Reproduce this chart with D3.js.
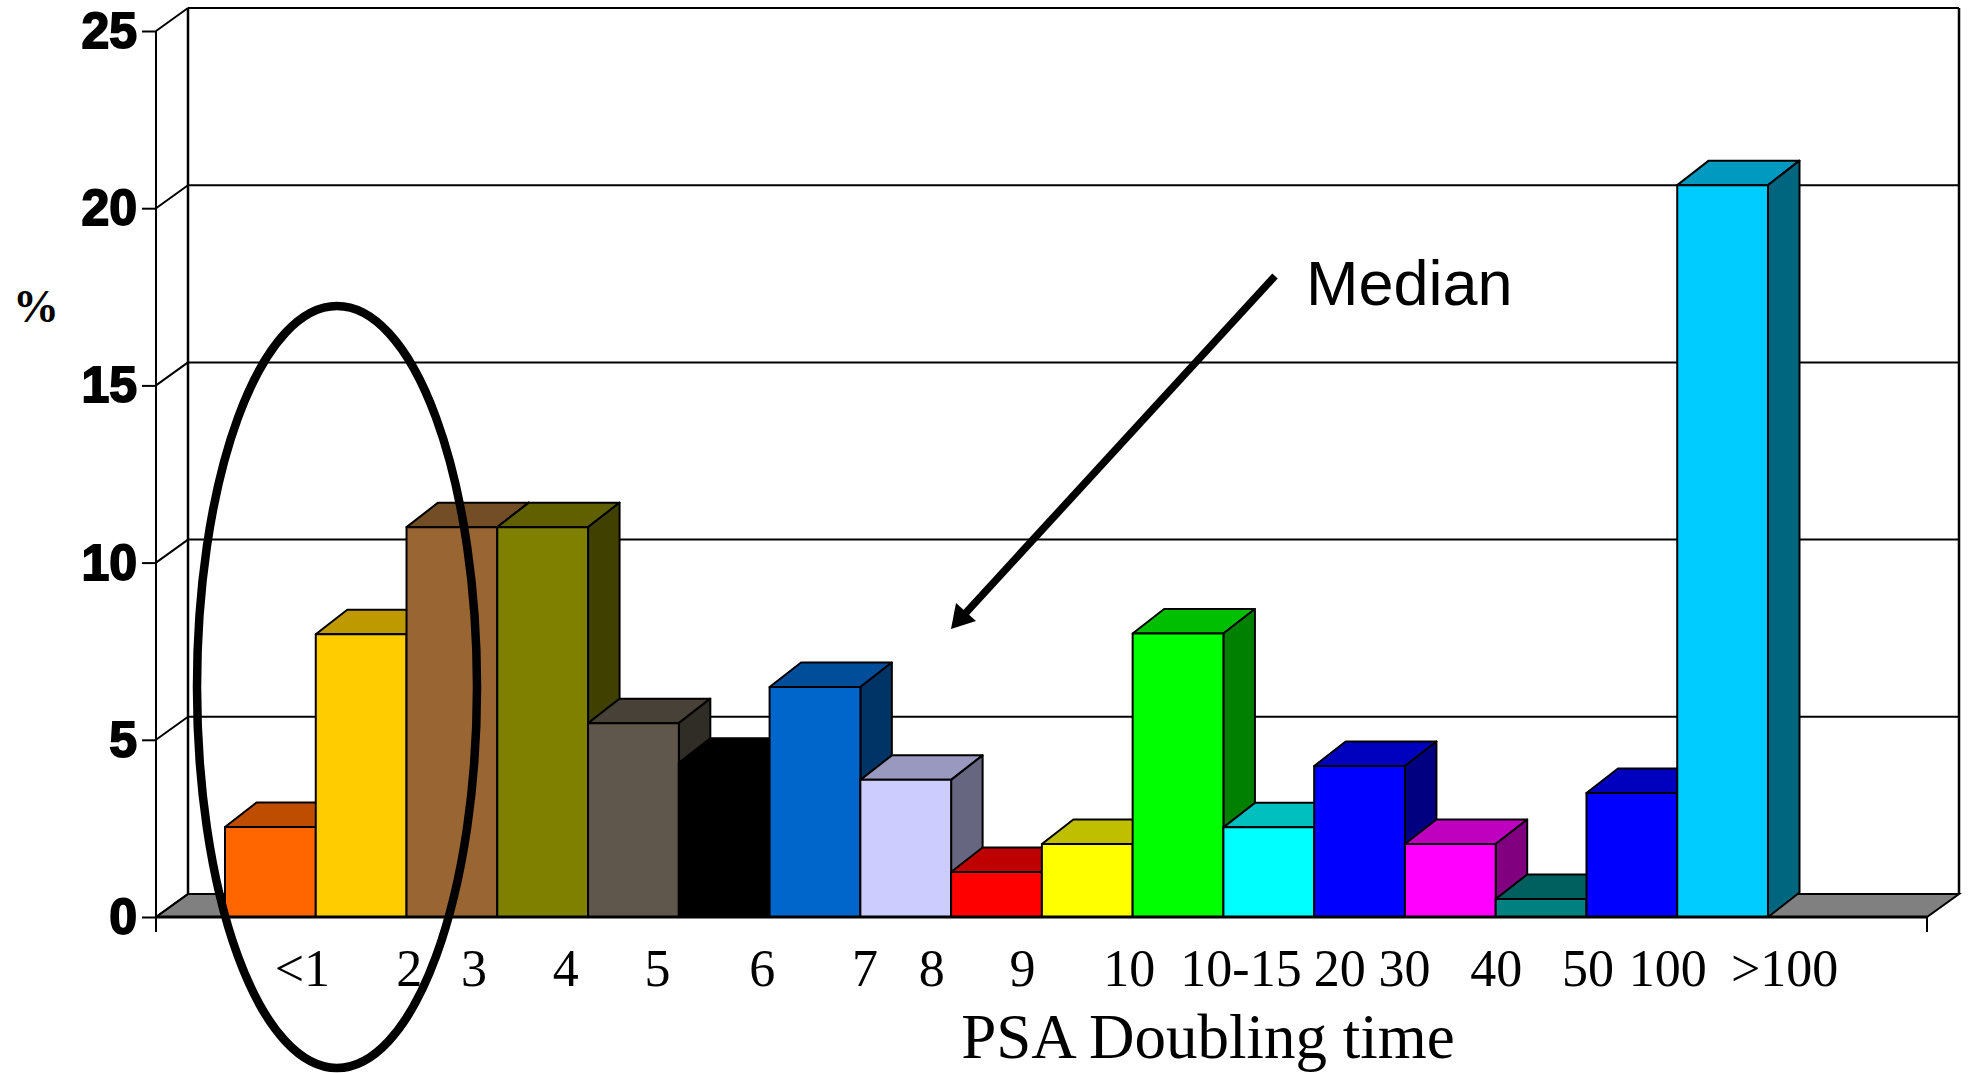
<!DOCTYPE html>
<html>
<head>
<meta charset="utf-8">
<script src="https://cdn.jsdelivr.net/npm/d3@7"></script>
<style>
  html, body { margin: 0; padding: 0; background: #fff; overflow: hidden; }
</style>
</head>
<body>
<div id="chart"></div>
<script>
const categories = ["<1", "2", "3", "4", "5", "6", "7", "8", "9", "10", "10-15", "20", "30", "40", "50", "100", ">100"];
const percents = [2.54, 7.98, 11.0, 11.0, 5.47, 4.35, 6.49, 3.87, 1.27, 2.06, 8.0, 2.53, 4.26, 2.06, 0.51, 3.5, 20.65];
const barColors = ["#ff6600", "#ffcc00", "#996633", "#808000", "#5f574b", "#000000", "#0066cc", "#ccccff",
  "#ff0000", "#ffff00", "#00ff00", "#00ffff", "#0000ff", "#ff00ff", "#008080", "#0000ff", "#00ccff"];
const yTicks = [0, 5, 10, 15, 20, 25];

// labels don't sit under their bars in the original, so each one gets pushed right
const labelShift = [32, 48, 22, 23, 24, 38, 50, 26, 26, 42, 63, 71, 45, 46, 47, 36, 62];

const width = 1969, height = 1073;
const depthX = 32, depthY = 23;
const barDepthX = 31.5, barDepthY = 24.5;
const axisLeft = 156, axisRight = 1927;

const svg = d3.select("#chart").append("svg")
  .attr("width", width)
  .attr("height", height)
  .style("display", "block");

const x = d3.scaleBand().domain(categories).range([225, 1768]);
const y = d3.scaleLinear().domain([0, 25]).range([917, 31]);

const shade = (c, k) => {
  const o = d3.rgb(c);
  return d3.rgb(o.r * k, o.g * k, o.b * k).formatHex();
};
const poly = pts => pts.map(p => p.join(",")).join(" ");

// floor
svg.append("polygon")
  .attr("points", poly([[axisLeft, y(0)], [axisLeft + depthX, y(0) - depthY], [axisRight + depthX, y(0) - depthY], [axisRight, y(0)]]))
  .attr("fill", "#808080")
  .attr("stroke", "#000")
  .attr("stroke-width", 2);

// back wall gridlines and the little diagonals on the side wall
svg.append("g").selectAll("line")
  .data(yTicks.slice(1))
  .join("line")
  .attr("x1", axisLeft + depthX)
  .attr("x2", axisRight + depthX)
  .attr("y1", d => y(d) - depthY)
  .attr("y2", d => y(d) - depthY)
  .attr("stroke", "#000")
  .attr("stroke-width", 2);

svg.append("g").selectAll("line")
  .data(yTicks)
  .join("line")
  .attr("x1", axisLeft)
  .attr("x2", axisLeft + depthX)
  .attr("y1", d => y(d))
  .attr("y2", d => y(d) - depthY)
  .attr("stroke", "#000")
  .attr("stroke-width", 2);

// wall verticals
[axisLeft + depthX, axisRight + depthX].forEach(px => {
  svg.append("line")
    .attr("x1", px).attr("x2", px)
    .attr("y1", y(25) - depthY).attr("y2", y(0) - depthY)
    .attr("stroke", "#000")
    .attr("stroke-width", 2.5);
});

// y axis
const yAxis = svg.append("g")
  .attr("transform", `translate(${axisLeft},0)`)
  .call(d3.axisLeft(y).tickValues(yTicks).tickSize(14).tickPadding(5).tickSizeOuter(0));
yAxis.select(".domain").remove();
yAxis.selectAll("line").attr("stroke", "#000").attr("stroke-width", 2);
yAxis.selectAll("text")
  .attr("dy", "16.5px")
  .style("font-family", "'Liberation Sans', Arial, sans-serif")
  .style("font-weight", "bold")
  .style("font-size", "50px")
  .attr("fill", "#000")
  .attr("stroke", "#000")
  .attr("stroke-width", 1.8);

// left axis line, runs a bit below zero
svg.append("line")
  .attr("x1", axisLeft).attr("x2", axisLeft)
  .attr("y1", y(25)).attr("y2", y(0) + 15)
  .attr("stroke", "#000").attr("stroke-width", 2);

// bars, left to right so the next front covers the previous side
const bars = svg.append("g").selectAll("g")
  .data(categories)
  .join("g")
  .attr("stroke", "#000")
  .attr("stroke-width", 2)
  .attr("stroke-linejoin", "round");

bars.each(function (d, i) {
  const g = d3.select(this);
  const x0 = x(d), x1 = x0 + x.bandwidth();
  const top = y(percents[i]), base = y(0);
  g.append("polygon")
    .attr("points", poly([[x0, top], [x0 + barDepthX, top - barDepthY], [x1 + barDepthX, top - barDepthY], [x1, top]]))
    .attr("fill", shade(barColors[i], 0.75));
  g.append("polygon")
    .attr("points", poly([[x1, top], [x1 + barDepthX, top - barDepthY], [x1 + barDepthX, base - barDepthY], [x1, base]]))
    .attr("fill", shade(barColors[i], 0.5));
  g.append("rect")
    .attr("x", x0)
    .attr("y", top)
    .attr("width", x1 - x0)
    .attr("height", base - top)
    .attr("fill", barColors[i]);
});

// front edge of the floor + end tick
svg.append("line")
  .attr("x1", axisLeft).attr("x2", axisRight)
  .attr("y1", y(0)).attr("y2", y(0))
  .attr("stroke", "#000").attr("stroke-width", 3);
svg.append("line")
  .attr("x1", axisRight).attr("x2", axisRight)
  .attr("y1", y(0)).attr("y2", y(0) + 15)
  .attr("stroke", "#000").attr("stroke-width", 2);

// category labels
const xAxis = svg.append("g")
  .attr("transform", `translate(0,${y(0)})`)
  .call(d3.axisBottom(x).tickSize(0).tickPadding(0));
xAxis.select(".domain").remove();
xAxis.selectAll(".tick").each(function (d, i) {
  d3.select(this).select("text")
    .attr("y", 0)
    .attr("dy", 0)
    .attr("transform", `translate(${labelShift[i]},69)`)
    .style("font-family", "'Liberation Serif', 'Times New Roman', serif")
    .style("font-size", "52px")
    .attr("fill", "#000");
});

// axis titles
svg.append("text")
  .attr("transform", "translate(1208,1058)")
  .attr("text-anchor", "middle")
  .style("font-family", "'Liberation Serif', 'Times New Roman', serif")
  .style("font-size", "63px")
  .text("PSA Doubling time");

svg.append("text")
  .attr("transform", "translate(36,322)")
  .attr("text-anchor", "middle")
  .style("font-family", "'Liberation Serif', 'Times New Roman', serif")
  .style("font-weight", "bold")
  .style("font-size", "46px")
  .text("%");

// Median annotation
svg.append("text")
  .attr("x", 1306)
  .attr("y", 305)
  .style("font-family", "'Liberation Sans', Arial, sans-serif")
  .style("font-size", "63px")
  .text("Median");

svg.append("line")
  .attr("x1", 1275).attr("y1", 276)
  .attr("x2", 962).attr("y2", 617)
  .attr("stroke", "#000")
  .attr("stroke-width", 7.5);
svg.append("polygon")
  .attr("points", poly([[951, 629], [956, 603], [976, 621]]))
  .attr("fill", "#000");

// hand drawn ring around the first bars
svg.append("ellipse")
  .attr("cx", 337).attr("cy", 687)
  .attr("rx", 140).attr("ry", 381)
  .attr("fill", "none")
  .attr("stroke", "#000")
  .attr("stroke-width", 8.5);
</script>
</body>
</html>
